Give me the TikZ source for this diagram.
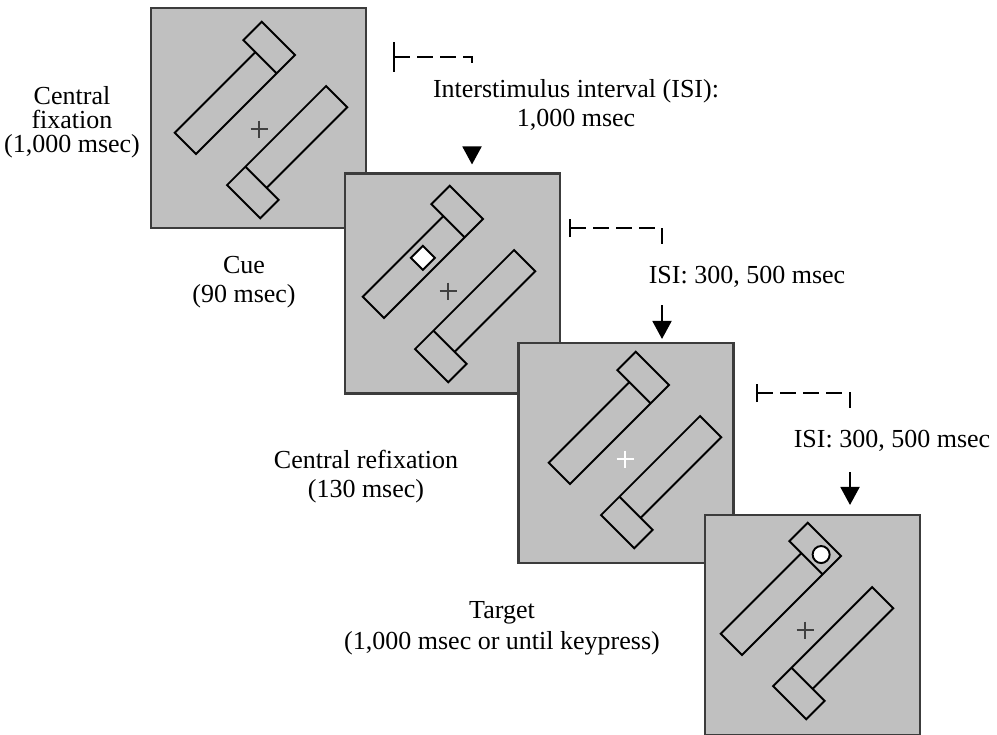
\documentclass[tikz,border=0pt]{standalone}
\usepackage{fontspec}
\setmainfont{Liberation Serif}
\usetikzlibrary{arrows.meta}

\definecolor{panelgray}{RGB}{192,192,192}
\definecolor{edgegray}{RGB}{60,60,60}

\tikzset{
  panel/.style={draw=edgegray,fill=panelgray,line width=1.2pt,minimum width=4.3cm,minimum height=4.4cm,inner sep=0pt},
  bar/.style={line width=1.1pt,line join=miter},
  plusmark/.style={line width=1.2pt},
  lbl/.style={align=center,inner sep=0pt},
  isi/.style={line width=1.1pt,dash pattern=on 0.32cm off 0.14cm},
  isiarrow/.style={line width=1.1pt,-{Triangle[length=0.36cm,width=0.38cm]}},
  stim/.pic={
    \draw[bar,rotate=45] (-70,-52) rectangle (44,-22) (44,-69) rectangle (70,-22)
      (-44,22) rectangle (70,52) (-70,22) rectangle (-44,69);
  }
}

\begin{document}
\begin{tikzpicture}[x=0.02cm,y=-0.02cm,font=\fontsize{14.8}{16.5}\selectfont]
	\def\plus{++(-8.5,0) -- ++(17,0) ++(-8.5,-8.5) -- ++(0,17)}
	\useasboundingbox (0,0) rectangle (997,734);
	% frames
	\node[panel] (p1) at (258.5,118) {};
	\pic at (261,120) {stim};
	\draw[plusmark,black!75] (259,129) \plus;
	\node[panel] (p2) at (452.5,283.5) {};
	\pic at (449,284) {stim};
	\draw[bar,fill=white,shift={(449,284)},rotate=45] (-8.5,-45.5) rectangle (8.5,-28.5);
	\draw[plusmark,black!75] (448,291) \plus;
	\node[panel] (p3) at (626,453) {};
	\pic at (635,450) {stim};
	\draw[plusmark,white] (625,459) \plus;
	\node[panel] (p4) at (812.5,625) {};
	\pic at (807,621) {stim};
	\draw[bar,fill=white,shift={(807,621)},rotate=45] (57,-37) circle (8.5);
	\draw[plusmark,black!75] (805,630) \plus;
	% labels
	\node[lbl,font=\fontsize{14.8}{13.8}\selectfont] (fixlbl) at (72,122) {Central\\fixation\\(1,000 msec)};
	\node[lbl] (cuelbl) at (244,282) {Cue\\(90 msec)};
	\node[lbl] (refixlbl) at (366,477) {Central refixation\\(130 msec)};
	\node[lbl,font=\fontsize{14.8}{17.5}\selectfont] (targetlbl) at (502,628) {Target\\(1,000 msec or until keypress)};
	\node[lbl,minimum height=1.68cm] (isi1) at (576,105) {Interstimulus interval (ISI):\\1,000 msec};
	\node[lbl,minimum height=1.14cm] (isi2) at (747,276.5) {ISI: 300, 500 msec};
	\node[lbl,minimum height=1.24cm] (isi3) at (892,441) {ISI: 300, 500 msec};
	% intervals
	\coordinate (t1) at (393,57);
	\coordinate (k1) at (472,57);
	\coordinate (t2) at (569,228);
	\coordinate (k2) at (662,228);
	\coordinate (t3) at (756,393);
	\coordinate (k3) at (850,393);
	\draw[isi,{Bar[width=0.6cm]}-] (t1) -- (k1) -- (k1 |- isi1.north);
	\draw[isiarrow] (k1 |- isi1.south) -- ([yshift=0.16cm]k1 |- p2.north);
	\draw[isi,{Bar[width=0.36cm]}-] (t2) -- (k2) -- (k2 |- isi2.north);
	\draw[isiarrow] (k2 |- isi2.south) -- ([yshift=0.06cm]k2 |- p3.north);
	\draw[isi,{Bar[width=0.36cm]}-] (t3) -- (k3) -- (k3 |- isi3.north);
	\draw[isiarrow] (k3 |- isi3.south) -- ([yshift=0.18cm]k3 |- p4.north);
\end{tikzpicture}
\end{document}
